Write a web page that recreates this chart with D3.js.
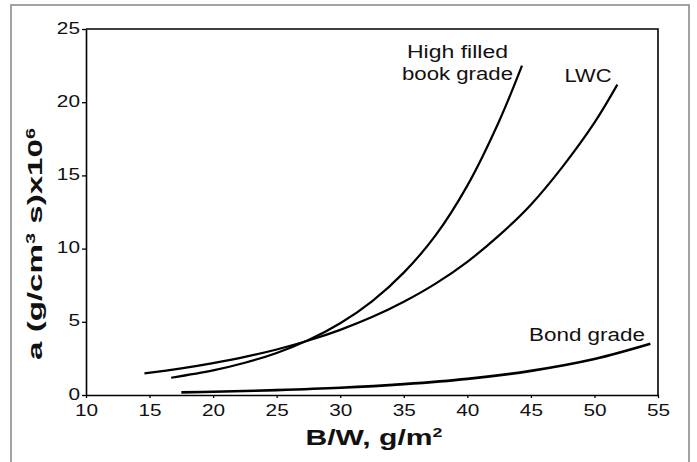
<!DOCTYPE html>
<html>
<head>
<meta charset="utf-8">
<script src="https://cdn.jsdelivr.net/npm/d3@7"></script>
<style>
  html, body { margin: 0; padding: 0; background: #fff; }
  svg { display: block; }
  text { font-family: "Liberation Sans", Arial, Helvetica, sans-serif; fill: #111; }
</style>
</head>
<body>
<svg id="chart" width="697" height="462"></svg>
<script>
// Axis ticks
const xTicks = [10, 15, 20, 25, 30, 35, 40, 45, 50, 55];
const yTicks = [0, 5, 10, 15, 20, 25];

// Specific coefficient a vs basis weight, per paper grade
const highFilledBW = [16.7, 20, 22.5, 25, 27.5, 30, 32.5, 35, 37.5, 40, 42.5, 44.3];
const highFilledA  = [1.18, 1.68, 2.2, 2.87, 3.75, 4.9, 6.4, 8.36, 10.9, 14.3, 18.7, 22.5];

const lwcBW = [14.6, 17.5, 20, 22.5, 25, 27.5, 30, 32.5, 35, 37.5, 40, 42.5, 45, 47.5, 50, 51.8];
const lwcA  = [1.48, 1.82, 2.18, 2.6, 3.11, 3.72, 4.45, 5.32, 6.37, 7.61, 9.1, 10.9, 13.0, 15.6, 18.6, 21.2];

const bondBW = [17.5, 20, 25, 30, 35, 40, 45, 50, 54.4];
const bondA  = [0.18, 0.22, 0.33, 0.49, 0.74, 1.1, 1.65, 2.46, 3.5];

const svg = d3.select("#chart");

// outer grey frame (open at the bottom edge of the page)
svg.append("rect")
  .attr("x", 11).attr("y", 5)
  .attr("width", 678).attr("height", 480)
  .attr("fill", "none").attr("stroke", "#8c8c8c").attr("stroke-width", 1.6);

const x = d3.scaleLinear().domain([10, 55]).range([86, 658]);
const y = d3.scaleLinear().domain([0, 25]).range([395, 29]);

const WIDE = 1.3;     // the typeface used here is a wide one

// plot box: top and right edges
svg.append("path")
  .attr("d", `M${x(10)},${y(25)}H${x(55)}V${y(0)}`)
  .attr("fill", "none").attr("stroke", "#000").attr("stroke-width", 1.6);

// x axis
const gx = svg.append("g")
  .attr("transform", `translate(0,${y(0)})`)
  .call(d3.axisBottom(x).tickValues(xTicks).tickSize(3).tickPadding(7).tickSizeOuter(0));
gx.selectAll("text").attr("font-size", 16)
  .attr("font-family", '"Liberation Sans", Arial, sans-serif')
  .attr("fill", "#111")
  .attr("transform", `scale(${WIDE},1)`);

// y axis
const gy = svg.append("g")
  .attr("transform", `translate(${x(10)},0)`)
  .call(d3.axisLeft(y).tickValues(yTicks).tickSize(4).tickPadding(2).tickSizeOuter(0));
gy.selectAll("text").attr("font-size", 16)
  .attr("font-family", '"Liberation Sans", Arial, sans-serif')
  .attr("fill", "#111")
  .attr("x", 0)
  .attr("transform", `translate(-6,-1) scale(${WIDE},1)`);

[gx, gy].forEach(g => {
  g.select(".domain").attr("stroke", "#000").attr("stroke-width", 1.6);
  g.selectAll(".tick line").attr("stroke", "#000").attr("stroke-width", 1.3);
});

// curves
const line = d3.line().x(d => x(d[0])).y(d => y(d[1])).curve(d3.curveCatmullRom);
const series = [
  { bw: highFilledBW, a: highFilledA, w: 2.2 },
  { bw: lwcBW, a: lwcA, w: 2.2 },
  { bw: bondBW, a: bondA, w: 2.6 }
];
series.forEach(s => {
  svg.append("path")
    .datum(d3.zip(s.bw, s.a))
    .attr("d", line)
    .attr("fill", "none")
    .attr("stroke", "#000")
    .attr("stroke-width", s.w)
    .attr("stroke-linecap", "butt");
});

// curve labels
function label(txt, cx, by, len) {
  svg.append("text")
    .attr("x", cx).attr("y", by)
    .attr("text-anchor", "middle")
    .attr("font-size", 17.5)
    .attr("textLength", len)
    .attr("lengthAdjust", "spacingAndGlyphs")
    .text(txt);
}
label("High filled", 457.5, 58, 101);
label("book grade", 457.5, 80, 111);
label("LWC", 588, 82, 47);
label("Bond grade", 587, 341, 116);

// x axis title
const xt = svg.append("text")
  .attr("x", 374).attr("y", 445)
  .attr("text-anchor", "middle")
  .attr("font-size", 22).attr("font-weight", "bold")
  .attr("textLength", 137).attr("lengthAdjust", "spacingAndGlyphs");
xt.append("tspan").text("B/W, g/m");
xt.append("tspan").attr("font-size", 13).attr("dy", -8).text("2");

// y axis title
const yt = svg.append("text")
  .attr("transform", "translate(42,244) rotate(-90)")
  .attr("text-anchor", "middle")
  .attr("font-size", 20).attr("font-weight", "bold")
  .attr("textLength", 232).attr("lengthAdjust", "spacingAndGlyphs");
yt.append("tspan").text("a (g/cm");
yt.append("tspan").attr("font-size", 12).attr("dy", -7).text("3");
yt.append("tspan").attr("dy", 7).text(" s)x10");
yt.append("tspan").attr("font-size", 12).attr("dy", -7).text("6");
</script>
</body>
</html>
